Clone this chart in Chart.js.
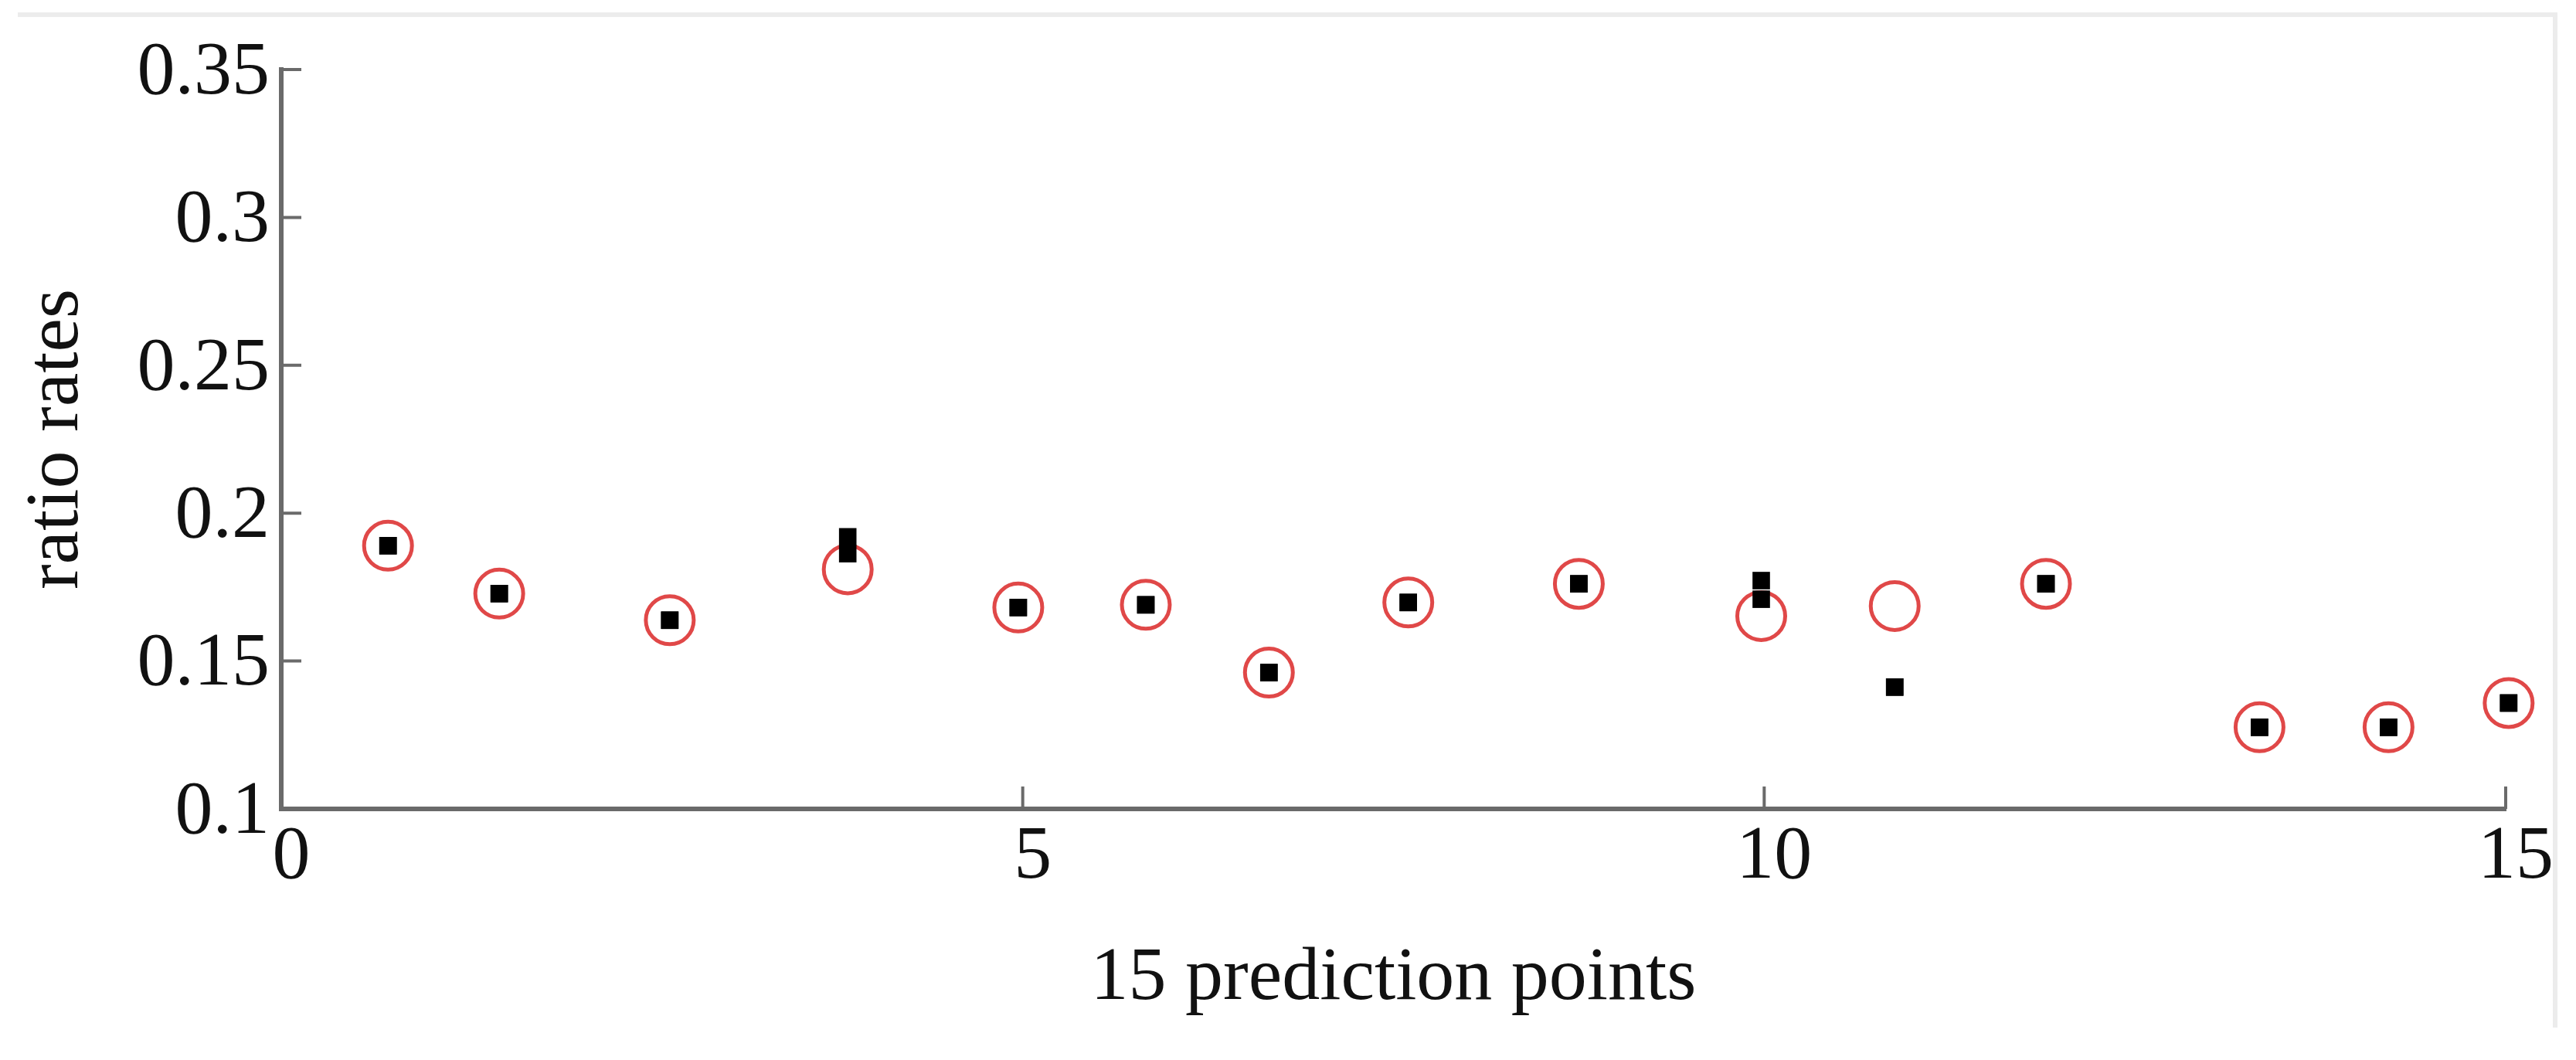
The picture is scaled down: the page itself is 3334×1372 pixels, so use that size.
<!DOCTYPE html>
<html>
<head>
<meta charset="utf-8">
<script src="https://cdn.jsdelivr.net/npm/chart.js@4/dist/chart.umd.min.js"></script>
<style>
  html, body { margin: 0; padding: 0; background: #ffffff; }
  #wrap { width: 3334px; height: 1372px; position: relative; }
</style>
</head>
<body>
<div id="wrap"><canvas id="c" width="3334" height="1372"></canvas></div>
<script>
// ---- data ----
const xPositions = [0.72, 1.47, 2.62, 3.82, 4.97, 5.83, 6.66, 7.60, 8.75, 9.98, 10.88, 11.90, 13.34, 14.21, 15.02];
const circleValues = [0.189, 0.1728, 0.1638, 0.181, 0.1681, 0.169, 0.1461, 0.1698, 0.1761, 0.1652, 0.1686, 0.1761, 0.1276, 0.1276, 0.1358];
const squareValuesA = [0.189, 0.1728, 0.1638, 0.192, 0.1681, 0.169, 0.1461, 0.1698, 0.1761, 0.1772, 0.1412, 0.1761, 0.1276, 0.1276, 0.1358];
const squareValuesB = [0.189, 0.1728, 0.1638, 0.1863, 0.1681, 0.169, 0.1461, 0.1698, 0.1761, 0.1709, 0.1412, 0.1761, 0.1276, 0.1276, 0.1358];
const xTicks = [0, 5, 10, 15];
const xTickLabels = ['0', '5', '10', '15'];
const yTicks = [0.1, 0.15, 0.2, 0.25, 0.3, 0.35];
const yTickLabels = ['0.1', '0.15', '0.2', '0.25', '0.3', '0.35'];
const xTitle = '15 prediction points';
const yTitle = 'ratio rates';

const toPts = (vals) => vals.map((v, i) => ({ x: xPositions[i], y: v }));

const FONT = 'Liberation Serif';
const AXIS_COLOR = '#6a6a6a';

const innerTicks = {
  id: 'innerTicks',
  beforeDraw(chart) {
    const ctx = chart.ctx;
    ctx.save();
    ctx.strokeStyle = '#ececec';
    ctx.lineWidth = 6;
    ctx.beginPath();
    ctx.moveTo(23, 19);
    ctx.lineTo(3307, 19);
    ctx.lineTo(3307, 1330);
    ctx.stroke();
    ctx.restore();
  },
  afterDraw(chart) {
    const ctx = chart.ctx;
    const xs = chart.scales.x, ys = chart.scales.y;
    const area = chart.chartArea;
    ctx.save();
    ctx.strokeStyle = AXIS_COLOR;
    ctx.lineWidth = 4;
    ctx.beginPath();
    yTicks.forEach(v => {
      const py = ys.getPixelForValue(v);
      ctx.moveTo(area.left, py);
      ctx.lineTo(area.left + 26, py);
    });
    xTicks.forEach(v => {
      const px = xs.getPixelForValue(v);
      ctx.moveTo(px, area.bottom);
      ctx.lineTo(px, area.bottom - 29);
    });
    ctx.stroke();
    ctx.restore();
  }
};

new Chart(document.getElementById('c'), {
  type: 'scatter',
  data: {
    datasets: [
      {
        label: 'squares A',
        data: toPts(squareValuesA),
        pointStyle: 'rect',
        pointRadius: 16,
        pointBackgroundColor: '#000000',
        pointBorderWidth: 0,
        borderColor: '#000000',
        showLine: false,
        clip: false,
        order: 1
      },
      {
        label: 'squares B',
        data: toPts(squareValuesB),
        pointStyle: 'rect',
        pointRadius: 16,
        pointBackgroundColor: '#000000',
        pointBorderWidth: 0,
        borderColor: '#000000',
        showLine: false,
        clip: false,
        order: 2
      },
      {
        label: 'circles',
        data: toPts(circleValues),
        pointStyle: 'circle',
        pointRadius: 31,
        pointBackgroundColor: 'rgba(0,0,0,0)',
        pointBorderColor: '#e04848',
        pointBorderWidth: 5,
        showLine: false,
        clip: false,
        order: 3
      }
    ]
  },
  options: {
    responsive: false,
    animation: false,
    devicePixelRatio: 1,
    layout: { padding: { top: 90, right: 91, left: 0, bottom: 0 } },
    plugins: { legend: { display: false }, tooltip: { enabled: false } },
    scales: {
      x: {
        type: 'linear',
        min: 0, max: 15,
        afterBuildTicks: (s) => { s.ticks = xTicks.map(v => ({ value: v })); },
        afterFit: (s) => { s.height = 325; },
        grid: { display: false, drawTicks: false },
        border: { display: true, color: AXIS_COLOR, width: 6 },
        ticks: {
          padding: 4,
          labelOffset: 13,
          color: '#111111',
          font: { family: FONT, size: 98 },
          maxRotation: 0,
          autoSkip: false,
          callback: (v) => { const i = xTicks.indexOf(v); return i >= 0 ? xTickLabels[i] : ''; }
        },
        title: {
          display: true,
          text: xTitle,
          color: '#111111',
          font: { family: FONT, size: 98 },
          padding: { top: 0, bottom: 46 }
        }
      },
      y: {
        type: 'linear',
        min: 0.1, max: 0.35,
        afterBuildTicks: (s) => { s.ticks = yTicks.map(v => ({ value: v })); },
        afterFit: (s) => { s.width = 364; },
        grid: { display: false, drawTicks: false },
        border: { display: true, color: AXIS_COLOR, width: 6 },
        ticks: {
          padding: 15,
          labelOffset: 5,
          color: '#111111',
          font: { family: FONT, size: 98 },
          autoSkip: false,
          callback: (v) => { const i = yTicks.findIndex(t => Math.abs(t - v) < 1e-9); return i >= 0 ? yTickLabels[i] : ''; }
        },
        title: {
          display: true,
          text: yTitle,
          color: '#111111',
          font: { family: FONT, size: 98 },
          padding: { top: 15, bottom: 0 }
        }
      }
    }
  },
  plugins: [innerTicks]
});
</script>
</body>
</html>
